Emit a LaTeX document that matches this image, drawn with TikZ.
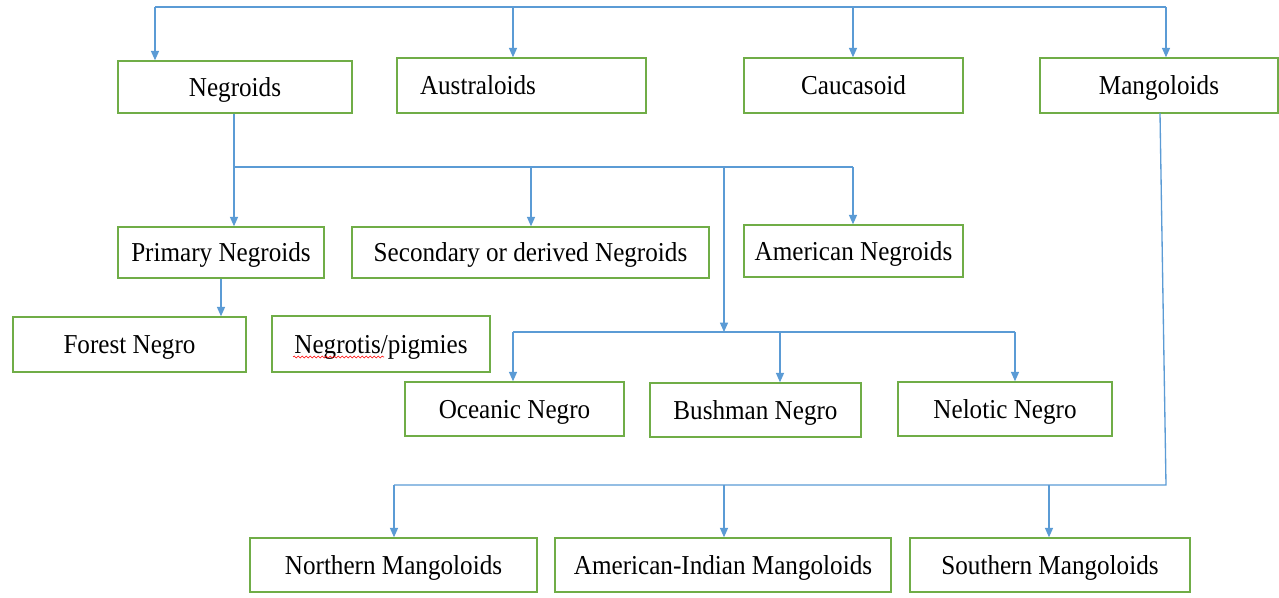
\documentclass[tikz,border=0pt]{standalone}
\usepackage{fontspec}
\setmainfont{Liberation Serif}[FakeStretch=0.92]
\usetikzlibrary{arrows.meta,decorations.pathmorphing}
\definecolor{boxgreen}{HTML}{70AD47}
\definecolor{linkblue}{HTML}{5B9BD5}
\tikzset{
  box/.style={draw=boxgreen, line width=1.1pt, fill=white, inner sep=0pt,
    text height=18.5pt, text depth=4.5pt,
    font=\fontsize{20.5}{24}\selectfont},
  wh/.style 2 args={minimum width=#1*0.75pt, minimum height=#2*0.75pt},
  link/.style={draw=linkblue, line width=1pt},
  arr/.style={link, -{Triangle[width=6pt,length=7pt]}},
}
\begin{document}
\begin{tikzpicture}[x=0.75pt,y=-0.75pt]
\useasboundingbox (0,0) rectangle (1279,598);
% row 1
\node[box, wh={234}{52}] (neg) at (235,87) {Negroids};
\node[box, wh={249}{55}, text width=203*0.75pt, align=left, inner xsep=17pt] (aus) at (521.5,85.5) {Australoids};
\node[box, wh={219}{55}] (cau) at (853.5,85.5) {Caucasoid};
\node[box, wh={238}{55}] (man) at (1159,85.5) {Mangoloids};
% row 2
\node[box, wh={206}{51}] (prim) at (221,252.5) {Primary Negroids};
\node[box, wh={357}{51}] (sec) at (530.5,252.5) {Secondary or derived Negroids};
\node[box, wh={219}{52}] (amn) at (853.5,251) {American Negroids};
% row 3
\node[box, wh={233}{55}] (for) at (129.5,344.5) {Forest Negro};
\node[box, wh={218}{56}] (pig) at (381,344) {Negrotis/pigmies};
% row 4
\node[box, wh={219}{54}] (oce) at (514.5,409) {Oceanic Negro};
\node[box, wh={211}{54}] (bus) at (755.5,410) {Bushman Negro};
\node[box, wh={214}{54}] (nel) at (1005,409) {Nelotic Negro};
% row 5
\node[box, wh={287}{54}] (nor) at (393.5,565) {Northern Mangoloids};
\node[box, wh={336}{54}] (ami) at (723,565) {American-Indian Mangoloids};
\node[box, wh={280}{54}] (sou) at (1050,565) {Southern Mangoloids};
% spell-check underline
\coordinate (wl) at (293,357);
\coordinate (wr) at (384,357);
\draw[red, line width=0.4pt, decorate, decoration={snake, amplitude=0.7pt, segment length=3pt}] (wl) -- (wr);
% top bus
\coordinate (t1) at (155,7);
\coordinate (t2) at (513,7);
\coordinate (t3) at (853,7);
\coordinate (t4) at (1166,7);
\draw[link] (t1) -- (t4);
\draw[arr] (t1) -- (t1 |- neg.north);
\draw[arr] (t2) -- (t2 |- aus.north);
\draw[arr] (t3) -- (t3 |- cau.north);
\draw[arr] (t4) -- (t4 |- man.north);
% negroids bus
\coordinate (n1) at (234,167);
\coordinate (n2) at (531,167);
\coordinate (n3) at (724,167);
\coordinate (n4) at (853,167);
\draw[link] (n1 |- neg.south) -- (n1) -- (n4);
\draw[arr] (n1) -- (n1 |- prim.north);
\draw[arr] (n2) -- (n2 |- sec.north);
\draw[arr] (n4) -- (n4 |- amn.north);
\coordinate (s0) at (724,332);
\draw[arr] (n3) -- (s0);
% primary -> forest
\draw[arr] (prim.south) -- (prim.south |- for.north);
% secondary bus
\coordinate (s1) at (513,332);
\coordinate (s2) at (780,332);
\coordinate (s3) at (1015,332);
\draw[link] (s1) -- (s3);
\draw[arr] (s1) -- (s1 |- oce.north);
\draw[arr] (s2) -- (s2 |- bus.north);
\draw[arr] (s3) -- (s3 |- nel.north);
% mangoloids bus
\coordinate (m0) at (1160,113);
\coordinate (m1) at (394,485);
\coordinate (m2) at (724,485);
\coordinate (m3) at (1049,485);
\coordinate (m4) at (1166,485);
\draw[link] (m0) -- (m4) -- (m1);
\draw[arr] (m1) -- (m1 |- nor.north);
\draw[arr] (m2) -- (m2 |- ami.north);
\draw[arr] (m3) -- (m3 |- sou.north);
\end{tikzpicture}
\end{document}
